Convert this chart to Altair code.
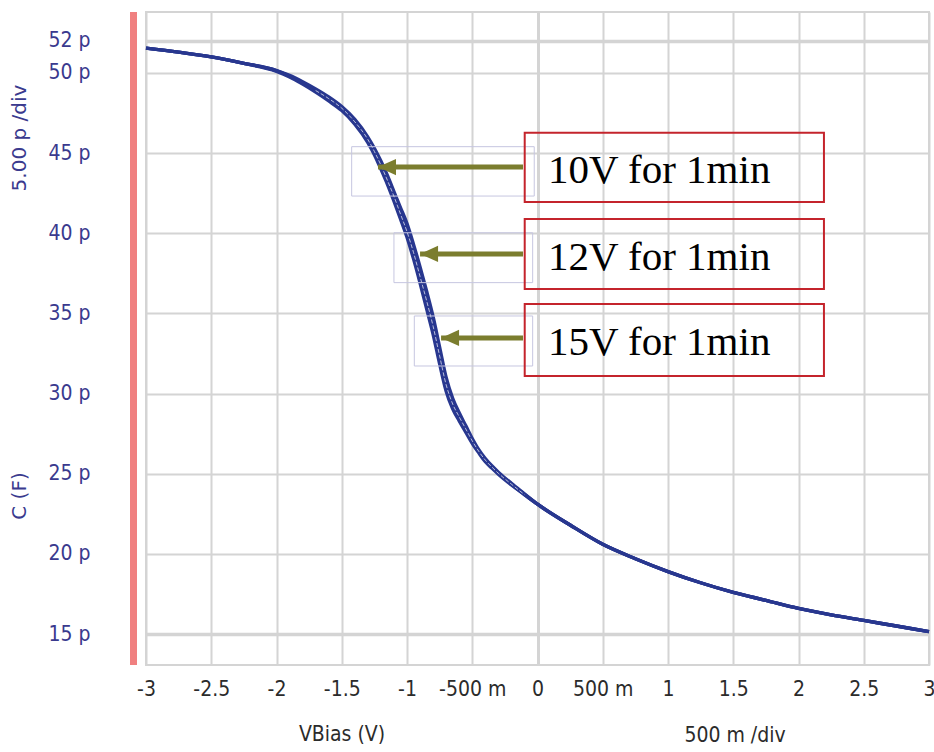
import json
import altair as alt
import pandas as pd

# ---------------- data ----------------
V = [-3.0, -2.75, -2.5, -2.25, -2.0, -1.9, -1.8, -1.7, -1.6, -1.5,
     -1.4, -1.3, -1.25, -1.2, -1.15, -1.1, -1.05, -1.0, -0.95, -0.9,
     -0.85, -0.8, -0.75, -0.7, -0.65, -0.6, -0.55, -0.5, -0.45, -0.4,
     -0.35, -0.3, -0.2, -0.1, 0.0, 0.25, 0.5, 0.75, 1.0, 1.25,
     1.5, 1.75, 2.0, 2.25, 2.5, 2.75, 3.0]

C_10 = [51.55, 51.3, 51.0, 50.6, 50.15, 49.85, 49.45, 49.0, 48.5, 47.9,
        47.1, 46.0, 45.3, 44.5, 43.6, 42.6, 41.6, 40.6, 39.3, 37.9,
        36.4, 34.8, 32.9, 31.0, 29.7, 28.8, 28.0, 27.2, 26.5, 25.95,
        25.5, 25.1, 24.4, 23.75, 23.1, 21.8, 20.6, 19.7, 18.9, 18.2,
        17.6, 17.1, 16.6, 16.2, 15.85, 15.5, 15.15]

C_12 = [51.55, 51.3, 51.0, 50.6, 50.15, 49.8, 49.4, 48.9, 48.4, 47.8,
        46.95, 45.85, 45.1, 44.25, 43.3, 42.3, 41.2, 40.1, 38.8, 37.3,
        35.8, 34.2, 32.35, 30.55, 29.35, 28.55, 27.8, 27.05, 26.4, 25.85,
        25.42, 25.03, 24.35, 23.7, 23.1, 21.8, 20.6, 19.7, 18.9, 18.2,
        17.6, 17.1, 16.6, 16.2, 15.85, 15.5, 15.15]

C_15 = [51.55, 51.3, 51.0, 50.6, 50.1, 49.75, 49.3, 48.8, 48.25, 47.65,
        46.8, 45.65, 44.9, 44.0, 43.05, 42.0, 40.9, 39.75, 38.4, 36.9,
        35.3, 33.7, 31.85, 30.15, 29.05, 28.3, 27.6, 26.9, 26.3, 25.75,
        25.35, 24.97, 24.3, 23.7, 23.1, 21.8, 20.6, 19.7, 18.9, 18.2,
        17.6, 17.1, 16.6, 16.2, 15.85, 15.5, 15.15]

series_names = ["10V for 1min", "12V for 1min", "15V for 1min"]

# range where the three sweeps separate (white gap visible between traces)
split_range = [-1.75, -0.05]

x_ticks = [-3, -2.5, -2, -1.5, -1, -0.5, 0, 0.5, 1, 1.5, 2, 2.5, 3]
x_labels = ["-3", "-2.5", "-2", "-1.5", "-1", "-500 m", "0", "500 m",
            "1", "1.5", "2", "2.5", "3"]
y_ticks = [15, 20, 25, 30, 35, 40, 45, 50, 52]
y_labels = ["15 p", "20 p", "25 p", "30 p", "35 p", "40 p", "45 p", "50 p", "52 p"]

# annotation boxes (data coordinates)
box_left = [-0.098, -0.098, -0.098]
box_right = [2.195, 2.195, 2.195]
box_top = [46.27, 40.89, 35.59]
box_bottom = [41.95, 36.52, 31.10]
text_x = [0.08, 0.08, 0.08]
text_y = [43.12, 37.71, 32.40]
arrow_tail_x = [-0.111, -0.111, -0.111]
arrow_tip_x = [-1.222, -0.900, -0.739]
arrow_y = [44.13, 38.71, 33.47]
hint_left = [-1.424, -1.100, -0.944]
hint_right = [-0.025, -0.037, -0.037]
hint_top = [45.40, 40.03, 34.84]
hint_bottom = [42.32, 36.92, 31.72]

# ---------------- tables ----------------
curve_rows = []
for name, cs in zip(series_names, [C_10, C_12, C_15]):
    for v, c in zip(V, cs):
        curve_rows.append({"series": name, "V": v, "C": c})
curves = pd.DataFrame(curve_rows)
split = curves[(curves["V"] >= split_range[0]) & (curves["V"] <= split_range[1])]
split_mid = split[split["series"] == series_names[1]]

ann = pd.DataFrame({
    "label": series_names,
    "bx0": box_left, "bx1": box_right, "by0": box_top, "by1": box_bottom,
    "tx": text_x, "ty": text_y,
    "ax0": arrow_tail_x, "ax1": arrow_tip_x, "ay": arrow_y,
    "hx0": hint_left, "hx1": hint_right, "hy0": hint_top, "hy1": hint_bottom,
})

# ---------------- scales & axes ----------------
W, H = 783, 653
xs = alt.Scale(domain=[-3, 3], nice=False, zero=False)
ys = alt.Scale(domain=[13.07, 53.8], nice=False, zero=False)

x_expr = "[" + ",".join(f"'{l}'" for l in x_labels) + "][indexof(" + json.dumps(x_ticks) + ", datum.value)]"
y_expr = "[" + ",".join(f"'{l}'" for l in y_labels) + "][indexof(" + json.dumps(y_ticks) + ", datum.value)]"

LABEL_FONT = "Liberation Sans Narrow, DejaVu Sans Condensed, DejaVu Sans"
NAVY = "#3a3a8e"
GRID = "#d4d4d4"
CURVE = "#28378f"

xaxis = alt.Axis(values=x_ticks, labelExpr=x_expr, title=None, domain=False,
                 ticks=False, labelPadding=13, labelFont=LABEL_FONT,
                 labelFontSize=21, labelColor="#2b2b2b", labelFlush=False,
                 labelOverlap=False, grid=True, gridColor=GRID,
                 gridWidth={"condition": {"test": "datum.value === 0", "value": 3}, "value": 2})
yaxis = alt.Axis(values=y_ticks, labelExpr=y_expr, title=None, domain=False,
                 ticks=False, labelPadding=56, labelFont=LABEL_FONT,
                 labelFontSize=21, labelColor=NAVY, labelOverlap=False,
                 grid=True, gridColor=GRID,
                 gridWidth={"condition": {"test": "datum.value === 52 || datum.value === 15", "value": 3.5}, "value": 2})

curve_layer = alt.Chart(curves).mark_line(strokeWidth=3.4, interpolate="monotone", color=CURVE).encode(
    x=alt.X("V:Q", scale=xs, axis=xaxis),
    y=alt.Y("C:Q", scale=ys, axis=yaxis),
    detail="series:N",
)

gap_layer = alt.Chart(split_mid).mark_line(strokeWidth=0.9, interpolate="monotone", color="white",
                                           opacity=0.75, strokeDash=[4, 2]).encode(
    x=alt.X("V:Q", scale=xs), y=alt.Y("C:Q", scale=ys),
)

hint_layer = alt.Chart(ann).mark_rect(fillOpacity=0, stroke="#c6c6e0", strokeWidth=1).encode(
    x=alt.X("hx0:Q", scale=xs), x2="hx1:Q",
    y=alt.Y("hy0:Q", scale=ys), y2="hy1:Q",
)

box_layer = alt.Chart(ann).mark_rect(fillOpacity=0, stroke="#c4242c", strokeWidth=2).encode(
    x=alt.X("bx0:Q", scale=xs), x2="bx1:Q",
    y=alt.Y("by0:Q", scale=ys), y2="by1:Q",
)

text_layer = alt.Chart(ann).mark_text(align="left", baseline="alphabetic",
                                      font="Liberation Serif", fontSize=41,
                                      color="#000000").encode(
    x=alt.X("tx:Q", scale=xs), y=alt.Y("ty:Q", scale=ys), text="label:N",
)

OLIVE = "#7b7d2e"
shaft_layer = alt.Chart(ann).mark_rule(color=OLIVE, strokeWidth=5).encode(
    x=alt.X("ax0:Q", scale=xs), x2="ax1:Q", y=alt.Y("ay:Q", scale=ys),
)
head_layer = alt.Chart(ann).mark_point(shape="M 0 0 L 2 -0.9 L 2 0.9 Z", size=324,
                                       filled=True, color=OLIVE, opacity=1).encode(
    x=alt.X("ax1:Q", scale=xs), y=alt.Y("ay:Q", scale=ys),
)

red_bar = alt.Chart(pd.DataFrame({"k": [0]})).mark_rule(color="#f08080", strokeWidth=7).encode(
    x=alt.value(-12.5), y=alt.value(0), y2=alt.value(H),
)

TITLE_FONT = "DejaVu Sans"
def title_mark(txt, px, py, angle, color, font, size):
    return alt.Chart(pd.DataFrame({"t": [txt]})).mark_text(
        angle=angle, align="center", baseline="middle", font=font,
        fontSize=size, color=color).encode(
        x=alt.value(px), y=alt.value(py), text="t:N")

titles = [
    title_mark("5.00 p /div", -126, 126, 270, NAVY, TITLE_FONT, 20),
    title_mark("C (F)", -126, 484, 270, NAVY, TITLE_FONT, 20),
    title_mark("VBias (V)", 196, 723, 0, "#2b2b2b", LABEL_FONT, 21),
    title_mark("500 m /div", 589, 724, 0, "#2b2b2b", LABEL_FONT, 21),
]

chart = alt.layer(
    curve_layer, gap_layer, hint_layer, box_layer, shaft_layer, head_layer, text_layer, red_bar, *titles
).properties(
    width=W, height=H,
    autosize=alt.AutoSizeParams(type="none"),
    padding={"left": 146, "top": 12, "right": 5, "bottom": 87},
    background="white",
).configure_view(stroke=GRID, strokeWidth=2)

chart.save("out.html", embed_options={"renderer": "svg", "actions": False})
